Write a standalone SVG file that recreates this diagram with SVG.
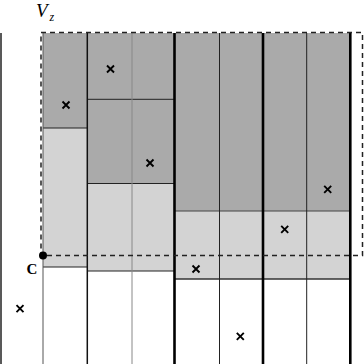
<svg xmlns="http://www.w3.org/2000/svg" xmlns:xlink="http://www.w3.org/1999/xlink" width="364" height="364" viewBox="0 0 364 364">
<style>
.dark{fill:#aaaaaa}
.light{fill:#d3d3d3}
.thin{stroke:#222;stroke-width:1}
.med{stroke:#111;stroke-width:1.5}
.thick{stroke:#000;stroke-width:2.6}
.grey{stroke:#888;stroke-width:1}
.dash{fill:none;stroke:#222;stroke-width:1.5;stroke-dasharray:5 4}
.lbl{font-family:"Liberation Serif","DejaVu Serif",serif;fill:#000}
</style>
<defs>
<g id="x"><path d="M-3.5,-3.5L3.5,3.5M-3.5,3.5L3.5,-3.5" stroke="#000" stroke-width="1.9" fill="none"/></g>
</defs>
<rect width="364" height="364" fill="#fff"/>
<g id="colA">
<rect class="dark" x="43" y="33" width="44" height="95"/>
<rect class="light" x="43" y="128" width="44" height="139"/>
<line class="thin" x1="43" y1="128" x2="87" y2="128"/>
<line class="thin" x1="43" y1="267" x2="87" y2="267"/>
<line x1="43" y1="33" x2="43" y2="364" stroke="#555" stroke-width="1"/>
</g>
<g id="colB">
<rect class="dark" x="87" y="33" width="87.5" height="150.5"/>
<rect class="light" x="87" y="183.5" width="87.5" height="87.5"/>
<line class="thin" x1="87" y1="99.3" x2="174" y2="99.3"/>
<line class="thin" x1="87" y1="183.5" x2="174" y2="183.5"/>
<line class="thin" x1="87" y1="271" x2="174" y2="271"/>
<line class="grey" x1="132" y1="33" x2="132" y2="364"/>
<line class="med" x1="87.3" y1="33" x2="87.3" y2="364"/>
</g>
<g id="colC">
<rect class="dark" x="174.5" y="33" width="175.5" height="178"/>
<rect class="light" x="174.5" y="211" width="175.5" height="68"/>
<line x1="174.5" y1="211" x2="350" y2="211" stroke="#444" stroke-width="1.2"/>
<line x1="174.5" y1="279" x2="350" y2="279" stroke="#333" stroke-width="1.4"/>
<line class="thin" x1="219.5" y1="33" x2="219.5" y2="364"/>
<line class="thin" x1="306.7" y1="33" x2="306.7" y2="364"/>
<line class="thick" x1="174.5" y1="33" x2="174.5" y2="364" stroke-width="3"/>
<line class="thick" x1="263" y1="33" x2="263" y2="364"/>
<line class="thick" x1="350.3" y1="33" x2="350.3" y2="364" stroke-width="2"/>
</g>
<g id="leftEdge">
<line x1="1" y1="33" x2="1" y2="364" stroke="#222" stroke-width="1.5"/>
</g>
<g id="Vz">
<rect class="dash" x="41" y="32.5" width="321.5" height="223"/>
<text class="lbl" x="36" y="17" font-size="19" font-style="italic">V</text>
<text class="lbl" x="49.5" y="21" font-size="12" font-style="italic">z</text>
</g>
<g id="C">
<circle cx="43" cy="255.5" r="4" fill="#000"/>
<text class="lbl" x="32" y="274" font-size="15" text-anchor="middle" font-weight="bold">C</text>
</g>
<g id="points">
<use xlink:href="#x" x="66" y="105"/>
<use xlink:href="#x" x="110.5" y="69"/>
<use xlink:href="#x" x="150" y="163"/>
<use xlink:href="#x" x="327.7" y="189.3"/>
<use xlink:href="#x" x="284.7" y="229.3"/>
<use xlink:href="#x" x="196" y="269"/>
<use xlink:href="#x" x="240.3" y="336.3"/>
<use xlink:href="#x" x="20" y="308.7"/>
</g>
</svg>
